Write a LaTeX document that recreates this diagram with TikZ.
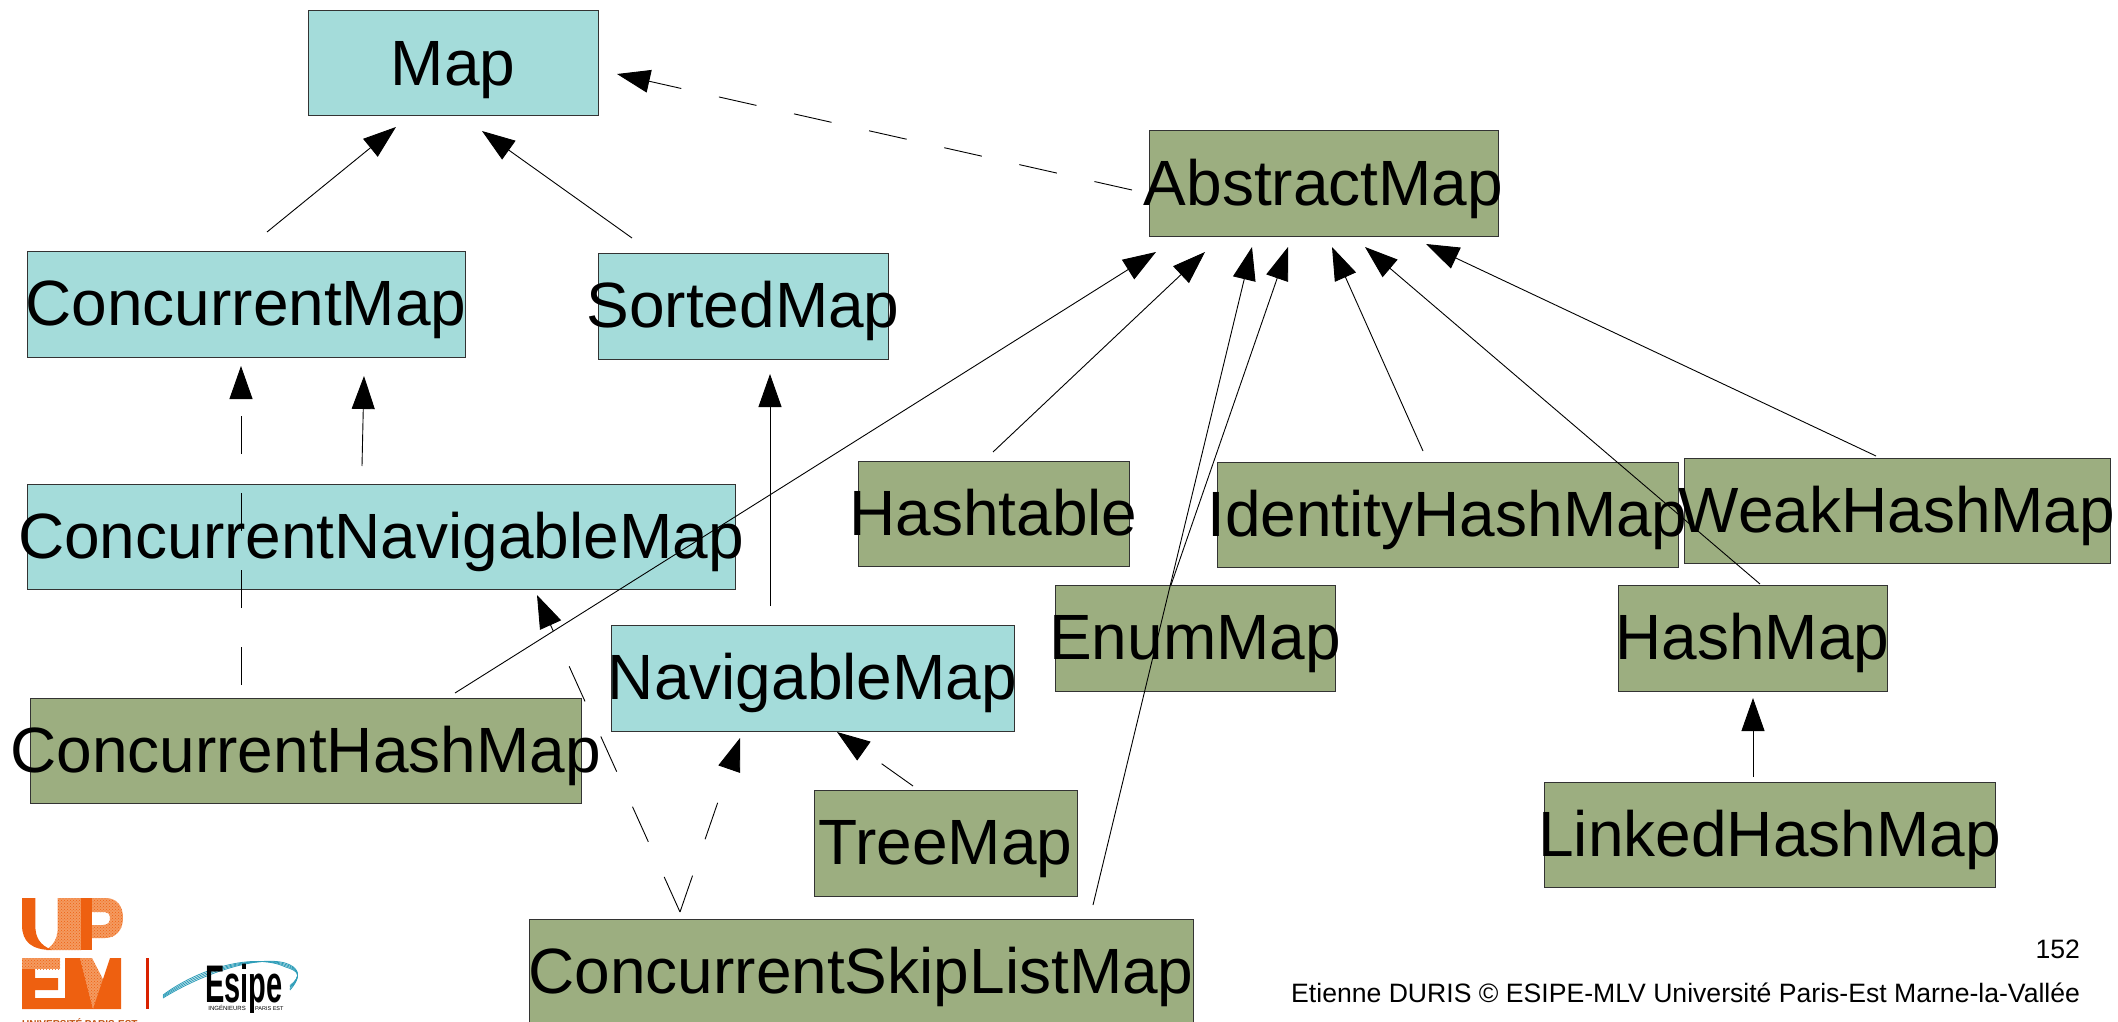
\documentclass[tikz,border=0pt]{standalone}
\usepackage{fontspec}
\setmainfont{Liberation Sans}
\usetikzlibrary{arrows.meta,patterns}
\definecolor{ifacecol}{HTML}{A4DCDA}
\definecolor{classcol}{HTML}{9CAE80}
\definecolor{upem}{HTML}{EE6010}
\definecolor{upemlight}{HTML}{F49A60}
\definecolor{swoosh}{HTML}{2E9DB8}
\newcommand{\boxlabel}[1]{\fontsize{64}{70}\selectfont\makebox[0pt][c]{#1}}
\tikzset{
  basebox/.style={draw=black!80,line width=1pt,anchor=north west,inner sep=0pt,outer sep=0pt,
    text height=60pt,text depth=16.6pt,align=center},
  iface/.style={basebox,fill=ifacecol},
  klass/.style={basebox,fill=classcol},
  arr/.style={draw=black,line width=0.9pt,-{Triangle[length=33pt,width=23pt]}},
  dashedarr/.style={arr,dash pattern=on 38.5pt off 38.5pt},
  halftone/.style={fill=upemlight,postaction={pattern=crosshatch dots,pattern color=upem}},
  footer/.style={inner sep=0pt,outer sep=0pt,anchor=base east},
}
\begin{document}
\begin{tikzpicture}[x=1pt,y=-1pt]
\useasboundingbox (0,0) rectangle (2118,1022);
\clip (0,0) rectangle (2118,1022);
% boxes
\node[iface,minimum width=290pt,minimum height=105pt] (map) at (308,11) {\boxlabel{Map}};
\node[iface,minimum width=438pt,minimum height=106pt] (cm) at (27,251) {\boxlabel{ConcurrentMap}};
\node[iface,minimum width=290pt,minimum height=106pt] (sm) at (598,253) {\boxlabel{SortedMap}};
\node[iface,minimum width=708pt,minimum height=105pt] (cnm) at (27,484) {\boxlabel{ConcurrentNavigableMap}};
\node[klass,minimum width=551pt,minimum height=105pt] (chm) at (30,698) {\boxlabel{ConcurrentHashMap}};
\node[iface,minimum width=403pt,minimum height=106pt] (nm) at (611,625) {\boxlabel{NavigableMap}};
\node[klass,minimum width=263pt,minimum height=106pt] (tm) at (814,790) {\boxlabel{TreeMap}};
\node[klass,minimum width=664pt,minimum height=106pt] (cslm) at (529,919) {\boxlabel{ConcurrentSkipListMap}};
\node[klass,minimum width=349pt,minimum height=105pt] (am) at (1149,131) {\boxlabel{AbstractMap}};
\node[klass,minimum width=271pt,minimum height=105pt] (ht) at (858,461) {\boxlabel{Hashtable}};
\node[klass,minimum width=461pt,minimum height=105pt] (ihm) at (1217,462) {\boxlabel{IdentityHashMap}};
\node[klass,minimum width=426pt,minimum height=105pt] (whm) at (1684,458) {\boxlabel{WeakHashMap}};
\node[klass,minimum width=280pt,minimum height=106pt] (em) at (1055,585) {\boxlabel{EnumMap}};
\node[klass,minimum width=269pt,minimum height=106pt] (hm) at (1618,585) {\boxlabel{HashMap}};
\node[klass,minimum width=451pt,minimum height=105pt] (lhm) at (1544,782) {\boxlabel{LinkedHashMap}};
% connectors
\draw[arr] ([shift={(240,-19)}]cm.north west) -- ([shift={(88,116)}]map.north west);
\draw[arr] ([shift={(34,-15)}]sm.north west) -- ([shift={(174,120)}]map.north west);
\draw[dashedarr] ([shift={(-17,59)}]am.north west) -- ([shift={(309,63)}]map.north west);
\draw[arr] ([shift={(335,-18)}]cnm.north west) -- ([shift={(337,125)}]cm.north west);
\draw[dashedarr] ([shift={(211,-13)}]chm.north west) -- ([shift={(214,115)}]cm.north west);
\draw[arr] ([shift={(159,-19)}]nm.north west) -- ([shift={(172,121)}]sm.north west);
\draw[dashedarr] ([shift={(151,-7)}]cslm.north west) -- ([shift={(510,111)}]cnm.north west);
\draw[dashedarr] ([shift={(151,-7)}]cslm.north west) -- ([shift={(129,113)}]nm.north west);
\draw[dashedarr] ([shift={(99,-4)}]tm.north west) -- ([shift={(226,107)}]nm.north west);
\draw[arr] ([shift={(425,-5)}]chm.north west) -- ([shift={(7,121)}]am.north west);
\draw[arr] ([shift={(135,-9)}]ht.north west) -- ([shift={(56,121)}]am.north west);
\draw[arr] ([shift={(564,-14)}]cslm.north west) -- ([shift={(103,116)}]am.north west);
\draw[arr] ([shift={(116,0)}]em.north west) -- ([shift={(139,116)}]am.north west);
\draw[arr] ([shift={(206,-11)}]ihm.north west) -- ([shift={(183,116)}]am.north west);
\draw[arr] ([shift={(142,-1)}]hm.north west) -- ([shift={(216,116)}]am.north west);
\draw[arr] ([shift={(192,-2)}]whm.north west) -- ([shift={(277,113)}]am.north west);
\draw[arr] ([shift={(209,-5)}]lhm.north west) -- ([shift={(135,113)}]hm.north west);
% footer
\node[footer] (pagenum) at (2080,958) {\fontsize{26.6}{30}\selectfont 152};
\node[footer] (credit) at (2080,1002) {\fontsize{26.6}{30}\selectfont Etienne DURIS © ESIPE-MLV Université Paris-Est Marne-la-Vallée};
% UPEM logo
\fill[halftone] (57.7,898) -- (81,898) -- (81,950) -- (46,950) .. controls (52,946) and (57.7,940) .. (57.7,928) -- cycle;
\fill[halftone] (92,898) -- (105,898) .. controls (118,898) and (123,907) .. (123,918) .. controls (123,930) and (116,938) .. (105,938) -- (92,938) -- (92,925) -- (103,925) .. controls (109,925) and (110,921) .. (110,918) .. controls (110,914) and (108,912) .. (103,912) -- (92,912) -- cycle;
\fill[upem] (22,898) -- (35.3,898) -- (35.3,925) .. controls (35.3,938) and (40,945) .. (52,950) .. controls (32,950) and (22,942) .. (22,925) -- cycle;
\fill[upem] (81,898) -- (92,898) -- (92,950) -- (81,950) -- cycle;
\fill[halftone] (22,958) -- (60,958) -- (60,969) -- (22,969) -- cycle;
\fill[halftone] (80,958) -- (92,958) -- (106,985) -- (93,1009) -- cycle;
\fill[upem] (22,969) -- (35,969) -- (35,978) -- (58,978) -- (58,990) -- (35,990) -- (35,998) -- (65,998) -- (65,958) -- (80,958) -- (93,1009) -- (22,1009) -- cycle;
\fill[upem] (93,1009) -- (110,958) -- (121,958) -- (121,1009) -- cycle;
\node[inner sep=0pt,anchor=base west,text=upem!80!black] (upemname) at (22,1027) {\fontsize{10}{12}\selectfont\bfseries UNIVERSITÉ PARIS-EST};
\fill[red!70!orange!85!black] (146,958) rectangle (149,1009);
% Esipe logo
\foreach \d in {0,2.5,5,7.5}{
  \draw[swoosh,line width=0.8pt] (163,998-\d*0.4) .. controls (200,975-\d) and (255,955-\d*0.3) .. (285,963+\d*0.5) .. controls (298,967+\d*0.5) and (303,975) .. (290,990-\d*0.6);
}
\node[inner sep=0pt,anchor=base] (esipe) at (244,1002) {\scalebox{0.63}[1.15]{\fontsize{46}{50}\selectfont\bfseries Esipe}};
\node[inner sep=0pt,anchor=base east] (esipesub) at (246,1010) {\fontsize{6}{8}\selectfont INGÉNIEURS};
\node[inner sep=0pt,anchor=base west] (esipesubb) at (255,1010) {\fontsize{5.5}{8}\selectfont PARIS EST};
\end{tikzpicture}
\end{document}
